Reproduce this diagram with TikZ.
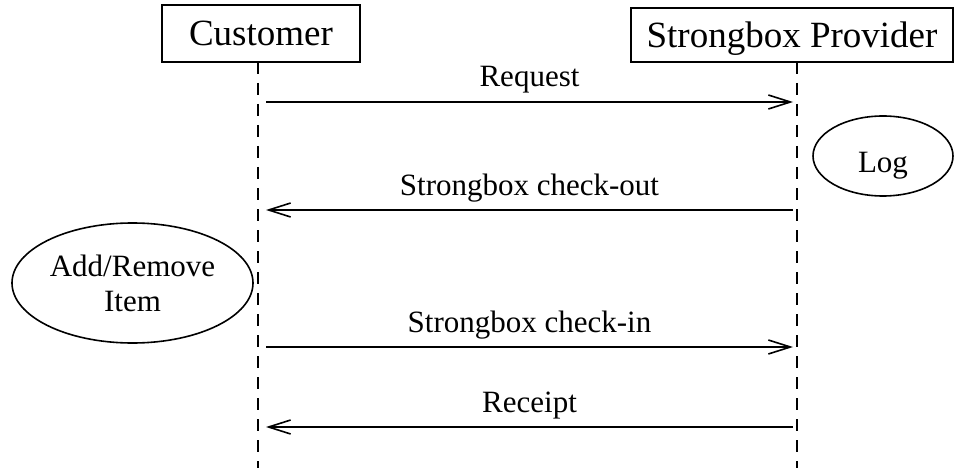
\documentclass[tikz,border=0pt]{standalone}
\usepackage{fontspec}
\setmainfont{Liberation Serif}
\usetikzlibrary{arrows.meta,shapes.geometric}

\tikzset{
    actor/.style={draw, line width=1.6pt, rectangle, inner sep=0pt, text depth=0pt,
        font=\fontsize{37}{44}\selectfont},
    usecase/.style={draw, line width=1.6pt, ellipse, inner sep=0pt,
        font=\fontsize{31}{35}\selectfont},
    lifeline/.style={line width=2.2pt, dash pattern=on 12pt off 9pt},
    msg/.style={line width=1.6pt, -{Straight Barb[length=22pt,width=14pt,line width=1.6pt]}},
    msglabel/.style={anchor=base, yshift=15pt, font=\fontsize{31}{35}\selectfont},
}

\begin{document}
\begin{tikzpicture}[x=1pt,y=-1pt]

    \useasboundingbox (0,0) rectangle (956,468);

    % the two parties
    \node[actor, minimum width=198pt, minimum height=57pt] (customer) at (261,33.5) {Customer};
    \node[actor, minimum width=322pt, minimum height=54pt] (provider) at (792,35) {Strongbox Provider};

    \coordinate (C) at (258,62);
    \coordinate (P) at (797,62);
    \coordinate (Cend) at (258,468);
    \coordinate (Pend) at (797,468);

    \draw[lifeline] (C) -- (Cend);
    \draw[lifeline] (P) -- (Pend);

    % message ends, just off the lifelines
    \coordinate (C1) at (266,102);
    \coordinate (P1) at (793,102);
    \coordinate (C2) at (266,210);
    \coordinate (P2) at (793,210);
    \coordinate (C3) at (266,347);
    \coordinate (P3) at (793,347);
    \coordinate (C4) at (266,427);
    \coordinate (P4) at (793,427);

    \draw[msg] (C1) -- node[msglabel] {Request} (P1);
    \draw[msg] (P2) -- node[msglabel] {Strongbox check-out} (C2);
    \draw[msg] (C3) -- node[msglabel] {Strongbox check-in} (P3);
    \draw[msg] (P4) -- node[msglabel] {Receipt} (C4);

    % local actions
    \node[usecase, minimum width=241pt, minimum height=120pt, align=center] (addremove) at (132.5,283) {Add/Remove\\Item};
    \node[usecase, minimum width=140pt, minimum height=80pt] (logcase) at (883,156) {};
    \node[font=\fontsize{31}{35}\selectfont] (logtext) at (883,166) {Log};

\end{tikzpicture}
\end{document}
